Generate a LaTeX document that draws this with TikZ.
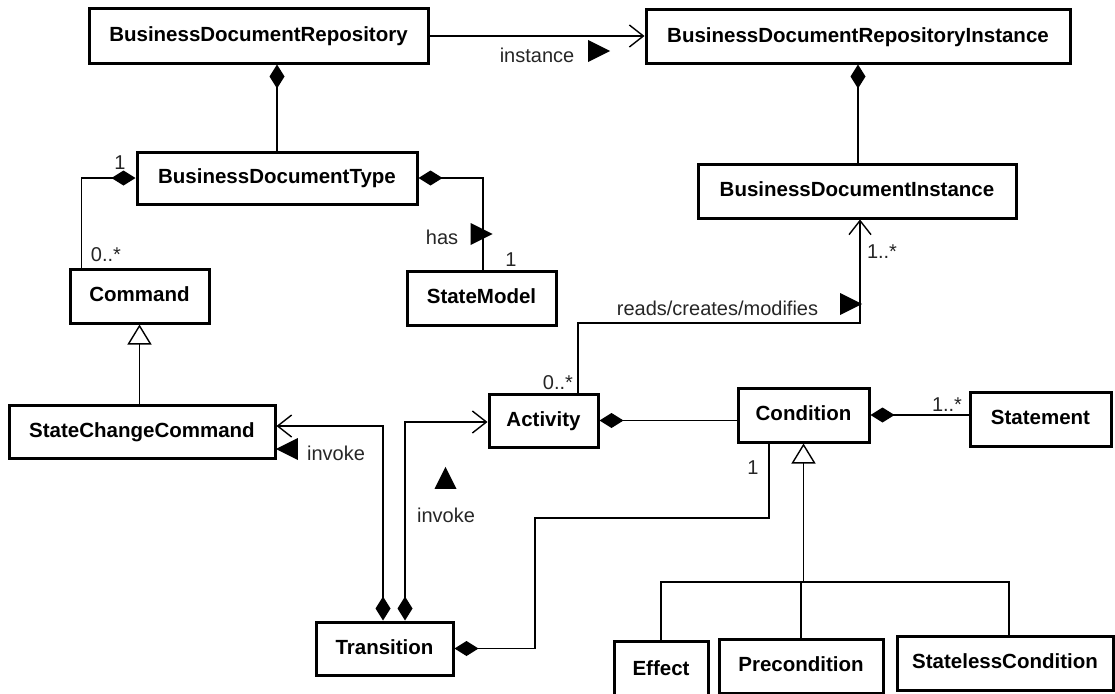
\documentclass[tikz,border=0pt]{standalone}
\usepackage{fontspec}
\setmainfont{Liberation Sans}
\usetikzlibrary{arrows.meta,shapes.geometric}

\begin{document}
\begin{tikzpicture}[x=1pt,y=-1pt,
  cls/.style={draw, line width=3pt, inner sep=0pt, fill=white,
    font=\fontsize{20.5}{22}\selectfont\bfseries, text height=15pt, text depth=4pt},
  lbl/.style={font=\fontsize{20}{22}\selectfont, text=black!85, inner sep=0pt},
  conn/.style={line width=1.4pt},
  comp/.style={conn, {Diamond[length=24pt,width=15pt]}-},
  compnav/.style={conn, {Diamond[length=24pt,width=15pt]}-{Straight Barb[length=14pt,width=22pt]}},
  nav/.style={conn, -{Straight Barb[length=14pt,width=22pt]}},
  gen/.style={conn, -{Triangle[open,length=20pt,width=24pt,fill=white]}},
  dirtri/.style={isosceles triangle, isosceles triangle stretches, fill=black,
    inner sep=0pt, minimum width=22pt, minimum height=22pt}
]
\useasboundingbox[fill=white] (0,0) rectangle (1115,693);

% classes
\node[cls, minimum width=339pt, minimum height=54pt] (bdr)   at (258.5,36)  {BusinessDocumentRepository};
\node[cls, minimum width=424pt, minimum height=53pt] (bdri)  at (858,36.5)  {BusinessDocumentRepositoryInstance};
\node[cls, minimum width=280pt, minimum height=52pt] (bdt)   at (277,178)   {BusinessDocumentType};
\node[cls, minimum width=318pt, minimum height=54pt] (bdi)   at (857,191)   {BusinessDocumentInstance};
\node[cls, minimum width=139pt, minimum height=54pt] (cmd)   at (139.5,296) {Command};
\node[cls, minimum width=149pt, minimum height=54pt] (sm)    at (481.5,298) {StateModel};
\node[cls, minimum width=266pt, minimum height=53pt] (scc)   at (142,431.5) {StateChangeCommand};
\node[cls, minimum width=109pt, minimum height=53pt] (act)   at (543.5,420.5) {Activity};
\node[cls, minimum width=131pt, minimum height=54pt] (cond)  at (803.5,415) {Condition};
\node[cls, minimum width=141pt, minimum height=54pt] (stmt)  at (1040.5,419) {Statement};
\node[cls, minimum width=137pt, minimum height=53pt] (trans) at (384.5,648.5) {Transition};
\node[cls, minimum width=94pt,  minimum height=58pt] (eff)   at (661,670)   {Effect};
\node[cls, minimum width=164pt, minimum height=54pt] (pre)   at (801,666)   {Precondition};
\node[cls, minimum width=216pt, minimum height=54pt] (sless) at (1005,663)  {StatelessCondition};

% bend points
\coordinate (rcm) at (860,323);
\coordinate (tc)  at (535,518);
\coordinate (gj)  at (803.5,582);

% associations
\draw[nav] (bdr.east) -- (bdri.west |- bdr.east);
\draw[comp] (bdt.north |- bdr.south) -- (bdt.north);
\draw[comp] (bdri.south) -- (bdri.south |- bdi.north);
\draw[comp] (bdt.west) -| ([xshift=13pt]cmd.north west);
\draw[comp] (bdt.east) -| ([xshift=1.5pt]sm.north);
\draw[gen] (cmd.south |- scc.north) -- (cmd.south);
\draw[compnav] ([xshift=-1.5pt]trans.north) |- ([yshift=5.5pt]scc.east);
\draw[compnav] ([xshift=20.5pt]trans.north) |- ([yshift=-1.5pt]act.west);
\draw[comp] (trans.east) -| (tc) -| ([xshift=-34.5pt]cond.south);
\draw[comp] (act.east) -- (cond.west |- act.east);
\draw[comp] (cond.east) -- (stmt.west |- cond.east);
\draw[nav] ([xshift=34.5pt]act.north) |- (rcm) -- ([xshift=3pt]bdi.south);

% generalization tree
\draw[gen] (gj) -- (cond.south);
\draw[conn] (eff.north) |- ([xshift=4pt]sless.north |- gj) -- ([xshift=4pt]sless.north);
\draw[conn] (pre.north) -- (pre.north |- gj);

% labels and reading directions
\node[lbl] (linst) at (537,55) {instance};
\node[dirtri] (tinst) at (595,51) {};
\node[lbl] (lhas) at (442,237) {has};
\node[dirtri] (thas) at (477.5,234) {};
\node[lbl] (lsm1) at (511,260) {1};
\node[lbl] (lbdt1) at (120,163) {1};
\node[lbl] (lcmd) at (106,255) {0..*};
\node[lbl] (lrcm) at (717.5,308) {reads/creates/modifies};
\node[dirtri] (trcm) at (847,304) {};
\node[lbl] (lbdi) at (882,252) {1..*};
\node[lbl] (lact) at (558,383) {0..*};
\node[lbl] (linv1) at (336,453) {invoke};
\node[dirtri, shape border rotate=180] (tinv1) at (291,449) {};
\node[dirtri, shape border rotate=90] (tinv2) at (445.5,482) {};
\node[lbl] (linv2) at (446,515) {invoke};
\node[lbl] (lcond1) at (753,468) {1};
\node[lbl] (lstmt) at (947,405) {1..*};
\end{tikzpicture}
\end{document}
